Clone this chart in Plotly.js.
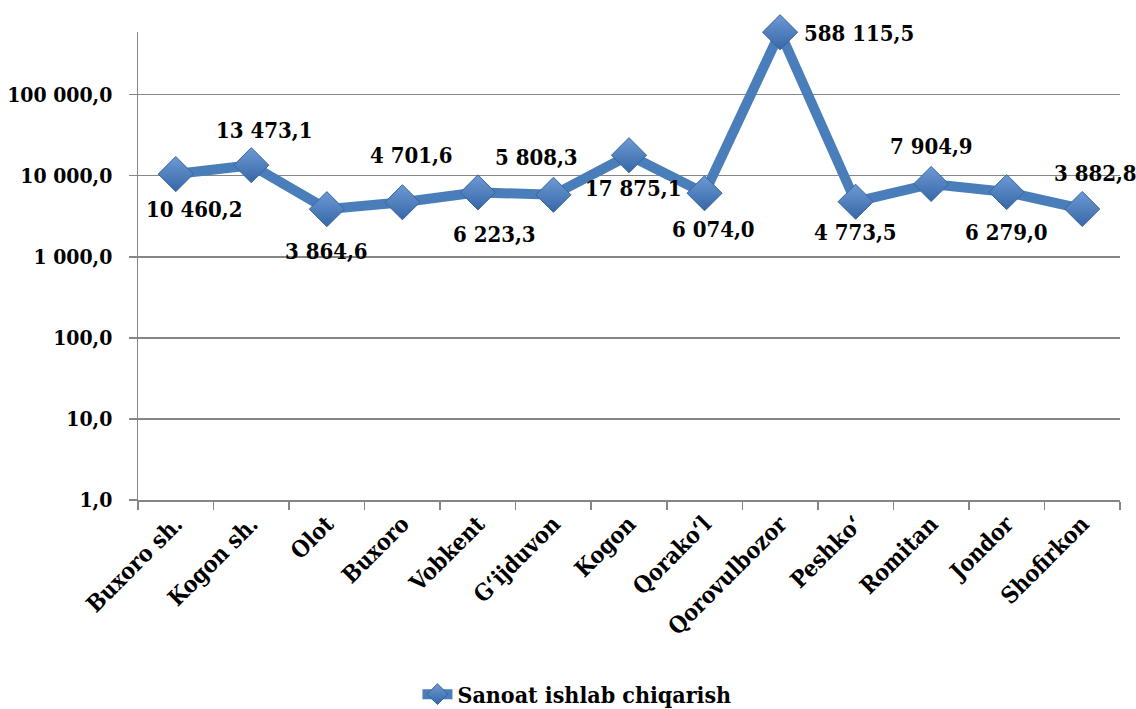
<!DOCTYPE html>
<html>
<head>
<meta charset="utf-8">
<script src="https://cdn.plot.ly/plotly-3.0.1.min.js"></script>
<style>html,body{margin:0;padding:0;background:#fff;}#chart{width:1136px;height:709px;}</style>
</head>
<body>
<div id="chart"></div>
<script>
const categories = ["Buxoro sh.", "Kogon sh.", "Olot", "Buxoro", "Vobkent", "G\u2018ijduvon", "Kogon", "Qorako\u2018l", "Qorovulbozor", "Peshko\u2018", "Romitan", "Jondor", "Shofirkon"];
const values = [10460.2, 13473.1, 3864.6, 4701.6, 6223.3, 5808.3, 17875.1, 6074.0, 588115.5, 4773.5, 7904.9, 6279.0, 3882.8];
const seriesName = "Sanoat ishlab chiqarish";
const yTickValues = [1, 10, 100, 1000, 10000, 100000];

// label placement offsets (pixels) – styling only
const labelShift = [
  [18, -35], [13, 35], [0, -42], [9, 47], [17, -42], [-17, 38], [4, -33],
  [9, -36], [79, -1], [0, -30], [0, 38], [0, -39.5], [13, 36]
];

const FONT = '"DejaVu Serif Condensed", "DejaVu Serif", serif';

function fmt(v) {
  const s = v.toFixed(1).split('.');
  return s[0].replace(/\B(?=(\d{3})+(?!\d))/g, ' ') + ',' + s[1];
}

const trace = {
  type: 'scatter',
  mode: 'lines+markers',
  x: categories,
  y: values,
  name: seriesName,
  line: {color: '#4a7ebb', width: 10},
  marker: {
    symbol: 'diamond',
    size: 27,
    color: '#6d9ad6',
    gradient: {type: 'vertical', color: '#3667a6'},
    line: {color: '#3a649a', width: 1}
  },
  cliponaxis: false,
  hoverinfo: 'skip'
};

const annotations = values.map((v, i) => ({
  x: categories[i],
  y: Math.log10(v),
  xref: 'x', yref: 'y',
  text: '<b>' + fmt(v) + '</b>',
  showarrow: false,
  xshift: labelShift[i][0],
  yshift: labelShift[i][1],
  font: {family: FONT, size: 22, color: '#000'}
}));

const layout = {
  width: 1136, height: 709,
  margin: {l: 138, r: 16, t: 32, b: 209, autoexpand: false},
  paper_bgcolor: '#fff', plot_bgcolor: '#fff',
  font: {family: FONT, color: '#000', weight: 'bold'},
  showlegend: true,
  legend: {
    orientation: 'h', x: 0.447, xanchor: 'center', y: -0.415, yanchor: 'middle',
    font: {family: FONT, size: 23, color: '#000', weight: 'bold'}
  },
  xaxis: {
    type: 'category',
    range: [-0.5, 12.5],
    automargin: false,
    tickangle: -45,
    tickson: 'boundaries',
    ticks: 'outside', ticklen: 8, tickcolor: '#868686', tickwidth: 1.5,
    showline: true, linecolor: '#868686', linewidth: 1.5,
    showgrid: false, zeroline: false,
    tickfont: {family: FONT, size: 23, color: '#000', weight: 'bold'}
  },
  yaxis: {
    type: 'log',
    automargin: false,
    range: [0, 5.772],
    tickvals: yTickValues,
    ticktext: yTickValues.map(fmt),
    ticks: 'outside', ticklen: 8, tickcolor: '#868686', tickwidth: 1.5,
    showline: true, linecolor: '#868686', linewidth: 1.5,
    showgrid: true, gridcolor: '#868686', gridwidth: 1.5,
    zeroline: false,
    ticklabelstandoff: 12,
    tickfont: {family: FONT, size: 21, color: '#000', weight: 'bold'}
  },
  annotations: annotations
};

Plotly.newPlot('chart', [trace], layout, {staticPlot: true, displayModeBar: false});
</script>
</body>
</html>
